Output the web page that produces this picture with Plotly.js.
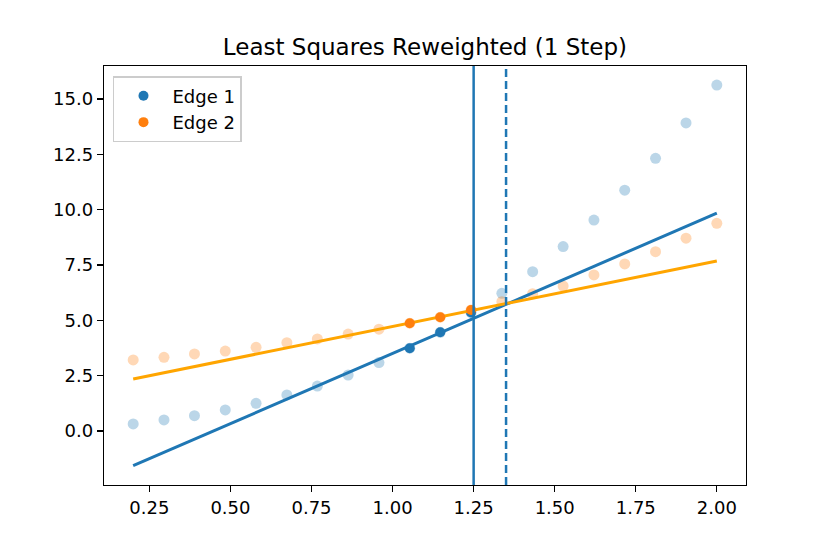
<!DOCTYPE html>
<html>
<head>
<meta charset="utf-8">
<script src="https://cdn.plot.ly/plotly-3.0.1.min.js"></script>
<style>
  html, body { margin:0; padding:0; background:#fff; }
  #chart { width:830px; height:554px; }
</style>
</head>
<body>
<div id="chart"></div>
<script>
// ---------- Data ----------
const xs = [0.2, 0.295, 0.389, 0.484, 0.579, 0.674, 0.768, 0.863, 0.958, 1.053,
            1.147, 1.242, 1.337, 1.432, 1.526, 1.621, 1.716, 1.811, 1.905, 2.0];
const edge1Y = [0.32, 0.50, 0.69, 0.95, 1.25, 1.63, 2.03, 2.53, 3.09, 3.74,
                4.46, 5.35, 6.22, 7.20, 8.33, 9.53, 10.88, 12.32, 13.92, 15.63];
const edge2Y = [3.21, 3.33, 3.48, 3.61, 3.78, 3.99, 4.16, 4.38, 4.60, 4.87,
                5.14, 5.47, 5.84, 6.20, 6.55, 7.05, 7.55, 8.10, 8.71, 9.38];
const highlightIdx = [9, 10, 11];

const fitX = [0.2, 2.0];
const edge1Fit = [-1.57, 9.84];
const edge2Fit = [2.35, 7.68];

const splitX = 1.25;      // solid vertical line
const nextSplitX = 1.35;  // dashed vertical line

const xTicks = [0.25, 0.5, 0.75, 1.0, 1.25, 1.5, 1.75, 2.0];
const yTicks = [0, 2.5, 5, 7.5, 10, 12.5, 15];

const BLUE = '#1f77b4', ORANGE = '#ff7f0e', LINE_ORANGE = '#ffa500';
const FONT = 'DejaVu Sans, sans-serif';

const pick = (arr, idx) => idx.map(i => arr[i]);

// ---------- Traces ----------
const traces = [
  {x: xs, y: edge1Y, mode: 'markers', type: 'scatter', showlegend: false, hoverinfo: 'skip',
   marker: {color: BLUE, size: 11, opacity: 0.3, line: {width: 0}}},
  {x: xs, y: edge2Y, mode: 'markers', type: 'scatter', showlegend: false, hoverinfo: 'skip',
   marker: {color: ORANGE, size: 11, opacity: 0.3, line: {width: 0}}},
  {x: pick(xs, highlightIdx), y: pick(edge1Y, highlightIdx), mode: 'markers', type: 'scatter',
   name: 'Edge 1', marker: {color: BLUE, size: 10}},
  {x: fitX, y: edge1Fit, mode: 'lines', type: 'scatter', showlegend: false,
   line: {color: BLUE, width: 3}},
  {x: fitX, y: edge2Fit, mode: 'lines', type: 'scatter', showlegend: false,
   line: {color: LINE_ORANGE, width: 3}},
  {x: pick(xs, highlightIdx), y: pick(edge2Y, highlightIdx), mode: 'markers', type: 'scatter',
   name: 'Edge 2', marker: {color: ORANGE, size: 10}}
];

// ---------- Layout ----------
const axisCommon = {
  showgrid: false, zeroline: false, showline: true, linecolor: '#000', linewidth: 1.2,
  mirror: true, ticks: 'outside', ticklen: 6, tickwidth: 1.2, tickcolor: '#000',
  tickfont: {family: FONT, size: 18, color: '#000'}
};

const layout = {
  width: 830, height: 554,
  margin: {l: 104, r: 84, t: 66, b: 69},
  paper_bgcolor: '#fff', plot_bgcolor: '#fff',
  font: {family: FONT, color: '#000'},
  title: {text: 'Least Squares Reweighted (1 Step)', x: 0.512, xanchor: 'center',
          y: 0.915, yanchor: 'middle', font: {family: FONT, size: 23, color: '#000'}},
  xaxis: Object.assign({}, axisCommon, {range: [0.11, 2.09], tickvals: xTicks,
          ticktext: xTicks.map(v => v.toFixed(2))}),
  yaxis: Object.assign({}, axisCommon, {range: [-2.44, 16.49], tickvals: yTicks,
          ticktext: yTicks.map(v => v.toFixed(1))}),
  legend: {x: 0.014, y: 0.976, xanchor: 'left', yanchor: 'top', traceorder: 'normal',
           bgcolor: 'rgba(255,255,255,0.8)', bordercolor: '#cccccc', borderwidth: 1.5,
           font: {family: FONT, size: 18, color: '#000'}, itemwidth: 48},
  shapes: [
    {type: 'line', xref: 'x', yref: 'paper', x0: splitX, x1: splitX, y0: 0, y1: 1,
     line: {color: BLUE, width: 2.5}, layer: 'above'},
    {type: 'line', xref: 'x', yref: 'paper', x0: nextSplitX, x1: nextSplitX, y0: 0, y1: 1,
     line: {color: BLUE, width: 2.5, dash: '8px,4px'}, layer: 'above'}
  ]
};

Plotly.newPlot('chart', traces, layout, {displayModeBar: false, staticPlot: true});
</script>
</body>
</html>
